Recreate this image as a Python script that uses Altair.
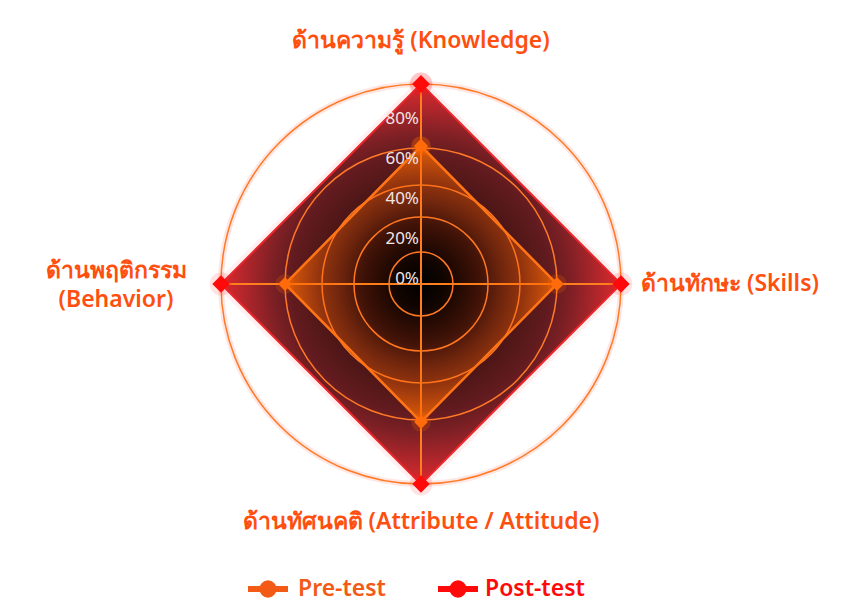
import altair as alt
import pandas as pd
import math

# ---- data ----
categories = ["Knowledge", "Skills", "Attitude", "Behavior"]
pre_values = [69, 68, 69, 68]
post_values = [100, 100, 100, 100]
tick_values = [0, 20, 40, 60, 80]
tick_labels = ["0%", "20%", "40%", "60%", "80%"]
grid_radii = [16, 33.5, 49.5, 68, 100]

rows = []
for name, vals in [("Pre-test", pre_values), ("Post-test", post_values)]:
    for i in range(len(categories) + 1):
        k = i % len(categories)
        rows.append({"series": name, "cat": categories[k], "idx": k, "value": vals[k], "ord": i})
poly = pd.DataFrame(rows)
pre_df = poly[poly.series == "Pre-test"]
post_df = poly[poly.series == "Post-test"]
spokes = pd.DataFrame({"cat": categories, "idx": list(range(len(categories))), "value": [100] * 4})
ticks = pd.DataFrame({"v": tick_values, "label": tick_labels})
grid = pd.DataFrame({"r": grid_radii})
outer = pd.DataFrame({"r": [max(grid_radii)]})

xs = alt.Scale(domain=[-206.5, 212], nice=False, zero=False)
ys = alt.Scale(domain=[-162, 138], nice=False, zero=False)


def polar(ch):
    return ch.transform_calculate(
        px="datum.value * sin(datum.idx * PI / 2)",
        py="datum.value * cos(datum.idx * PI / 2)",
        cx="0",
        cy="0",
    )


X = alt.X("px:Q", scale=xs, axis=None)
Y = alt.Y("py:Q", scale=ys, axis=None)
CX = alt.X("cx:Q", scale=xs, axis=None)
CY = alt.Y("cy:Q", scale=ys, axis=None)

post_grad = {
    "gradient": "radial",
    "stops": [
        {"offset": 0.0, "color": "#000000"},
        {"offset": 0.12, "color": "#050000"},
        {"offset": 0.25, "color": "#1e0505"},
        {"offset": 0.4, "color": "#3e1011"},
        {"offset": 0.55, "color": "#541819"},
        {"offset": 0.65, "color": "#621b1f"},
        {"offset": 0.75, "color": "#7e2025"},
        {"offset": 0.86, "color": "#a8252a"},
        {"offset": 1.0, "color": "#de2a2e"},
    ],
    "x1": 0.5, "y1": 0.5, "r1": 0, "x2": 0.5, "y2": 0.5, "r2": 0.5,
}
pre_grad = {
    "gradient": "radial",
    "stops": [
        {"offset": 0.0, "color": "rgba(255,100,0,0.0)"},
        {"offset": 0.45, "color": "rgba(255,100,0,0.12)"},
        {"offset": 0.75, "color": "rgba(255,100,0,0.4)"},
        {"offset": 1.0, "color": "rgba(255,110,0,0.8)"},
    ],
    "x1": 0.5, "y1": 0.5, "r1": 0, "x2": 0.5, "y2": 0.5, "r2": 0.5,
}

post_glow = polar(alt.Chart(post_df)).mark_line(stroke="#ff2020", strokeWidth=10, opacity=0.07).encode(
    x=X, y=Y, order="ord:Q")
post_fill = polar(alt.Chart(post_df)).mark_line(fill=post_grad, stroke="#e8262b", strokeWidth=2).encode(
    x=X, y=Y, order="ord:Q")

R = alt.Radius("r:Q", stack=None,
               scale=alt.Scale(type="linear", domain=[0, 100], range=[0, 200], zero=True))
grid_glow = alt.Chart(outer).transform_calculate(cx="0", cy="0").mark_arc(
    theta=0, theta2=2 * math.pi, filled=False, stroke="#ff3010", strokeWidth=6, opacity=0.12
).encode(x=CX, y=CY, radius=R)
grid_lines = alt.Chart(grid).transform_calculate(cx="0", cy="0").mark_arc(
    theta=0, theta2=2 * math.pi, filled=False, stroke="#ff7a26", strokeWidth=1.5
).encode(x=CX, y=CY, radius=R)

spoke_lines = polar(alt.Chart(spokes)).mark_rule(stroke="#ff7f1e", strokeWidth=2).encode(
    x=CX, y=CY, x2="px:Q", y2="py:Q")

pre_fill = polar(alt.Chart(pre_df)).mark_line(fill=pre_grad, stroke="#ff7414", strokeWidth=2.5).encode(
    x=X, y=Y, order="ord:Q")

pre_pts_glow = polar(alt.Chart(pre_df)).mark_point(
    shape="circle", filled=True, size=380, color="#ff6a00", opacity=0.2).encode(x=X, y=Y)
pre_pts = polar(alt.Chart(pre_df)).mark_point(
    shape="diamond", filled=True, size=190, color="#ff6a0a", opacity=1).encode(x=X, y=Y)
post_pts_glow = polar(alt.Chart(post_df)).mark_point(
    shape="circle", filled=True, size=520, color="#ff1010", opacity=0.12).encode(x=X, y=Y)
post_pts = polar(alt.Chart(post_df)).mark_point(
    shape="diamond", filled=True, size=300, color="#ff0a0a", opacity=1).encode(x=X, y=Y)

tick_text = alt.Chart(ticks).transform_calculate(cx="0").mark_text(
    align="right", baseline="alphabetic", fontSize=17, font="Noto Sans", color="#f2e4e4", dx=-2
).encode(x=CX, y=alt.Y("v:Q", scale=ys, axis=None), text="label:N")

lab_color = "#ff4f0f"
lab_df = pd.DataFrame({"k": [0]})


def label(txt, x, y, align="center"):
    return alt.Chart(lab_df).mark_text(
        align=align, baseline="middle", fontSize=23, fontWeight=600, font="Noto Sans",
        color=lab_color, lineHeight=29, text=txt
    ).encode(x=alt.value(x), y=alt.value(y))


lab_k = label("ด้านความรู้ (Knowledge)", 413, 33)
lab_s = label("ด้านทักษะ (Skills)", 633, 276, align="left")
lab_a = label("ด้านทัศนคติ (Attribute / Attitude)", 413, 514)
lab_b = label(["ด้านพฤติกรรม", "(Behavior)"], 108, 263)


def legend_item(name, color, x0, textx):
    line = alt.Chart(lab_df).mark_rule(stroke=color, strokeWidth=6).encode(
        x=alt.value(x0), x2=alt.value(x0 + 40), y=alt.value(581))
    dot = alt.Chart(lab_df).mark_point(shape="circle", filled=True, size=300, color=color, opacity=1).encode(
        x=alt.value(x0 + 20), y=alt.value(581))
    txt = alt.Chart(lab_df).mark_text(
        align="left", baseline="middle", fontSize=23, fontWeight=600, font="Noto Sans", color=color, text=name
    ).encode(x=alt.value(textx), y=alt.value(581))
    return [line, dot, txt]


leg = legend_item("Pre-test", "#f25a16", 240, 290) + legend_item("Post-test", "#ff0a0a", 430, 477)

chart = alt.layer(
    post_glow, post_fill, grid_glow, grid_lines, spoke_lines, pre_fill,
    pre_pts_glow, pre_pts, post_pts_glow, post_pts, tick_text,
    lab_k, lab_s, lab_a, lab_b, *leg,
).properties(
    width=837, height=600, autosize=alt.AutoSizeParams(type="none"), padding=0,
    background="white",
).configure_view(stroke=None)

chart.save("out.html", embed_options={"renderer": "svg", "actions": False})
